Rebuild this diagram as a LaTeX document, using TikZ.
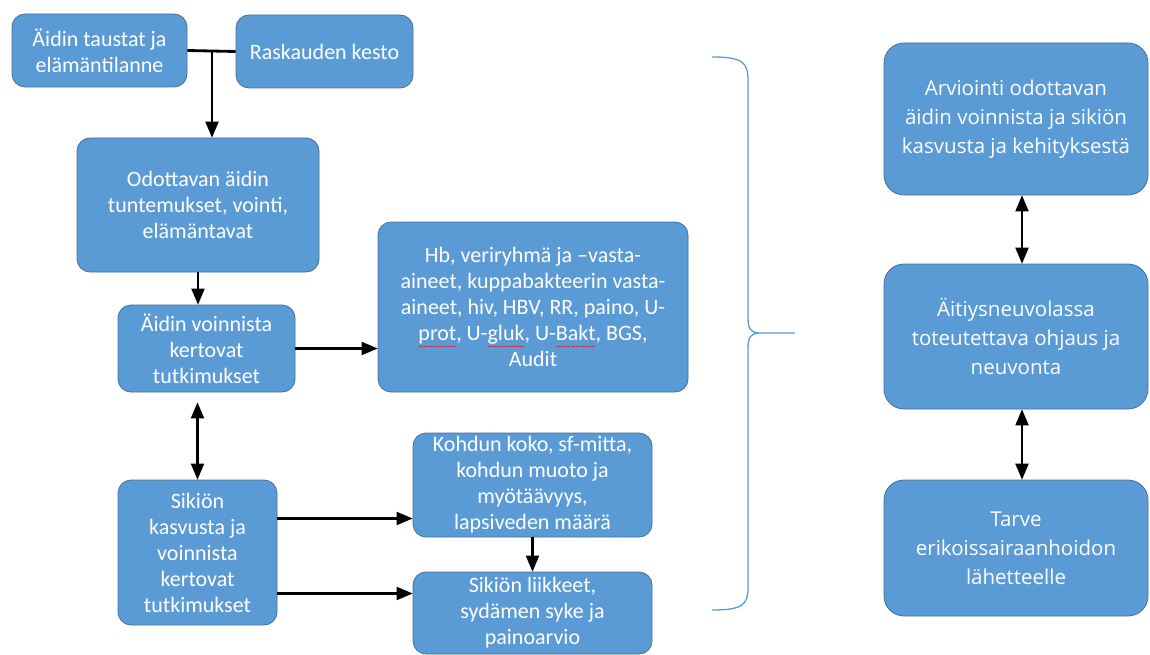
\documentclass[tikz,border=0pt]{standalone}
\usepackage{fontspec}
\setmainfont{Carlito}
\newfontfamily\rightfont{Open Sans}
\usetikzlibrary{calc,positioning,arrows}

\definecolor{boxblue}{HTML}{5B9BD5}
\definecolor{boxedge}{HTML}{41719C}
% red spelling wave under a word
\newcommand{\spellmark}[1]{\setbox0\hbox{#1}%
  \rlap{\raisebox{-0.42em}{\color{red}\fontsize{9}{9}\selectfont\hbox to \wd0{\xleaders\hbox{\char"7E}\hfil}}}#1}

\tikzset{
  box/.style={draw=boxedge, fill=boxblue, line width=0.8pt, rounded corners=13pt,
    text=white, align=center, inner sep=0pt, font=\fontsize{22}{26}\selectfont},
  bigbox/.style={box, rounded corners=20pt, font=\rightfont\fontsize{20.5}{29}\selectfont},
  link/.style={line width=2.8pt, -triangle 45},
  twoway/.style={line width=2.8pt, triangle 45-triangle 45}
}

\begin{document}
\begin{tikzpicture}[x=1pt,y=-1pt]
        \useasboundingbox (0,0) rectangle (1150,655);

        % left column
        \node[box, minimum width=175pt, minimum height=73pt] (taustat) at (99.5,50.5) {Äidin taustat ja\\elämäntilanne};
        \node[box, minimum width=177pt, minimum height=73pt] (kesto) at (324.5,51.5) {Raskauden kesto};
        \node[box, minimum width=242pt, minimum height=134pt] (tuntemukset) at (198,205) {Odottavan äidin\\tuntemukset, vointi,\\elämäntavat};
        \node[box, minimum width=177pt, minimum height=87pt] (aiti) at (206.5,348.5) {Äidin voinnista\\kertovat\\tutkimukset};
        \node[box, minimum width=310pt, minimum height=170pt] (labra) at (533,307) {Hb, veriryhmä ja –vasta-\\aineet, kuppabakteerin vasta-\\aineet, hiv, HBV, RR, paino, U-\\\spellmark{prot}, U-\spellmark{gluk}, U-\spellmark{Bakt}, BGS,\\Audit};
        \node[box, minimum width=159pt, minimum height=145pt] (sikio) at (197.5,552.5) {Sikiön\\kasvusta ja\\voinnista\\kertovat\\tutkimukset};
        \node[box, minimum width=239pt, minimum height=104pt] (kohtu) at (532.5,485) {Kohdun koko, sf-mitta,\\kohdun muoto ja\\myötäävyys,\\lapsiveden määrä};
        \node[box, minimum width=239pt, minimum height=82pt] (liikkeet) at (532.5,613) {Sikiön liikkeet,\\sydämen syke ja\\painoarvio};

        % right column
        \node[bigbox, minimum width=264pt, minimum height=152pt] (arviointi) at (1016,119) {Arviointi odottavan\\äidin voinnista ja sikiön\\kasvusta ja kehityksestä};
        \node[bigbox, minimum width=264pt, minimum height=145pt] (ohjaus) at (1016,336.5) {Äitiysneuvolassa\\toteutettava ohjaus ja\\neuvonta};
        \node[bigbox, minimum width=264pt, minimum height=136pt] (tarve) at (1016,548) {Tarve\\erikoissairaanhoidon\\lähetteelle};

        % connectors
        \coordinate (yhdys) at (212,51.5);
        \coordinate (kohtuun) at ($(sikio.east)+(0,-34)$);
        \coordinate (liikkeisiin) at ($(sikio.east)+(0,41)$);
        \draw[line width=2.8pt] (taustat.east) -- (kesto.west);
        \draw[link] (yhdys) -- (yhdys |- tuntemukset.north);
        \draw[link] (tuntemukset.south) -- (tuntemukset.south |- aiti.north);
        \draw[link] (aiti.east) -- (aiti.east -| labra.west);
        \draw[twoway, shorten <=10pt] (sikio.north |- aiti.south) -- (sikio.north);
        \draw[link] (kohtuun) -- (kohtuun -| kohtu.west);
        \draw[link] (liikkeisiin) -- (liikkeisiin -| liikkeet.west);
        \draw[link] (kohtu.south) -- (liikkeet.north);
        \draw[twoway] ($(arviointi.south)+(6,0)$) -- ($(ohjaus.north)+(6,0)$);
        \draw[twoway] ($(ohjaus.south)+(6,0)$) -- ($(tarve.north)+(6,0)$);

        % brace
        \draw[boxblue, line width=1.3pt]
            (712,57) .. controls (742,57) and (748,62) .. (748,80) -- (748,318)
            .. controls (748,329) and (751,333) .. (760,333) -- (795,333)
            (760,333) .. controls (751,333) and (748,337) .. (748,348) -- (748,588)
            .. controls (748,605) and (742,610) .. (712,610);
\end{tikzpicture}
\end{document}
